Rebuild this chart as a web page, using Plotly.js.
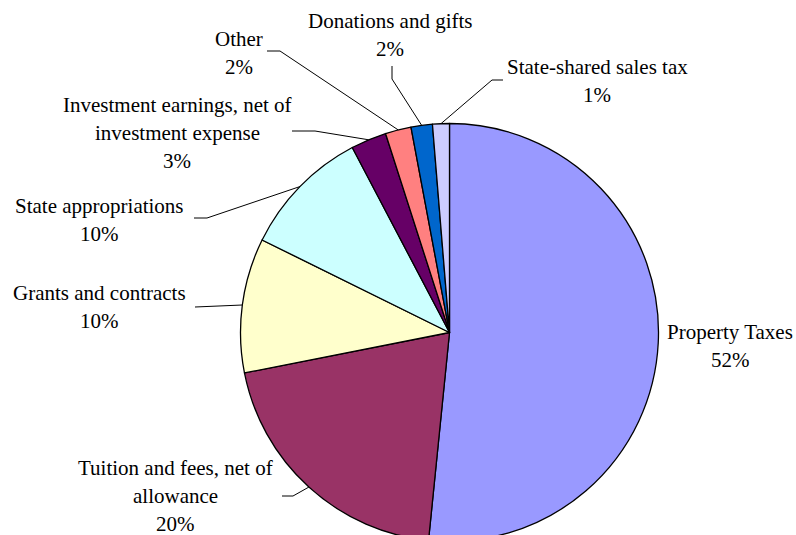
<!DOCTYPE html>
<html>
<head>
<meta charset="utf-8">
<script src="https://cdn.plot.ly/plotly-3.0.1.min.js"></script>
<style>
html, body { margin: 0; padding: 0; overflow: hidden; background: #fff; }
#chart { width: 796px; height: 560px; }
</style>
</head>
<body>
<div id="chart"></div>
<script>
// ---- data ----
const categories = [
  "Property Taxes",
  "Tuition and fees, net of allowance",
  "Grants and contracts",
  "State appropriations",
  "Investment earnings, net of investment expense",
  "Other",
  "Donations and gifts",
  "State-shared sales tax"
];
const values = [51.6, 20.3, 10.4, 10.0, 2.75, 2.0, 1.65, 1.3];
const percentLabels = ["52%", "20%", "10%", "10%", "3%", "2%", "2%", "1%"];
const labelLines = [
  ["Property Taxes"],
  ["Tuition and fees, net of", "allowance"],
  ["Grants and contracts"],
  ["State appropriations"],
  ["Investment earnings, net of", "investment expense"],
  ["Other"],
  ["Donations and gifts"],
  ["State-shared sales tax"]
];
const colors = ["#9999FF", "#993366", "#FFFFCC", "#CCFFFF", "#660066", "#FF8080", "#0066CC", "#CCCCFF"];

// ---- layout constants (pixels) ----
const W = 796, H = 560;
const CX = 449.5, CY = 332.5, R = 209;
// label block: center x, first-line y
const labelPos = [
  [730, 332], [175.5, 468], [99, 293], [99, 206], [177, 105], [238.5, 39], [390, 21], [597, 67]
];
const LINE_H = 28;
// leader elbows: list of points from label side toward pie (pie edge point appended from data)
const leaderPts = [
  null,
  [[282, 496], [293, 496]],
  [[195, 307]],
  [[194, 218], [207, 218]],
  [[292, 131], [315, 131]],
  [[267, 51], [280, 51]],
  [[392, 66], [392, 79]],
  [[503, 80], [492, 80]]
];

const px = x => x / W;
const py = y => 1 - y / H;

const total = values.reduce((a, b) => a + b, 0);
const annotations = [];
const shapes = [];
let cum = 0;
values.forEach((v, i) => {
  const mid = (cum + v / 2) / total * 2 * Math.PI;
  cum += v;
  const ex = CX + R * Math.sin(mid);
  const ey = CY - R * Math.cos(mid);
  const [lx, ly] = labelPos[i];
  const lines = labelLines[i].concat([percentLabels[i]]);
  lines.forEach((t, k) => {
    annotations.push({
      text: t, xref: "paper", yref: "paper",
      x: px(lx), y: py(ly + k * LINE_H),
      xanchor: "center", yanchor: "middle", showarrow: false,
      font: { family: "'Liberation Serif', 'Times New Roman', serif", size: 21, color: "#000" }
    });
  });
  if (leaderPts[i]) {
    const pts = leaderPts[i].concat([[ex, ey]]);
    const path = pts.map((p, k) => (k ? "L" : "M") + px(p[0]) + "," + py(p[1])).join(" ");
    shapes.push({ type: "path", xref: "paper", yref: "paper", path: path,
      line: { color: "#000", width: 1 } });
  }
});

const trace = {
  type: "pie",
  labels: categories,
  values: values,
  sort: false,
  direction: "clockwise",
  rotation: 0,
  textinfo: "none",
  hoverinfo: "none",
  marker: { colors: colors, line: { color: "#000", width: 1.3 } },
  domain: { x: [px(CX - R), px(CX + R)], y: [py(CY + R), py(CY - R)] }
};

Plotly.newPlot("chart", [trace], {
  width: W, height: H,
  margin: { l: 0, r: 0, t: 0, b: 0 },
  showlegend: false,
  paper_bgcolor: "#fff",
  annotations: annotations,
  shapes: shapes
}, { displayModeBar: false, staticPlot: true });
</script>
</body>
</html>
